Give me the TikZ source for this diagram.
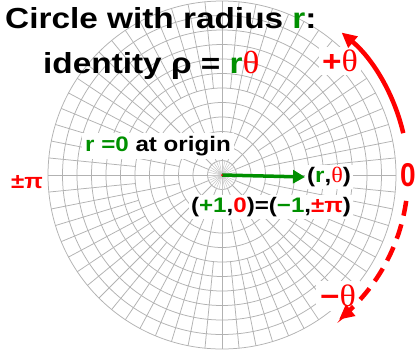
\documentclass[tikz,border=0pt]{standalone}
\usepackage{fontspec}
\setmainfont{Liberation Sans}[FakeStretch=1.15]
\newfontfamily\plainsans{Liberation Sans}
\newfontfamily\serf{Liberation Serif}[FakeStretch=1.1]
\usetikzlibrary{arrows.meta}
\definecolor{g}{HTML}{009000}
\definecolor{rd}{HTML}{FF0000}
\tikzset{
  gridl/.style={draw=black!30, line width=0.75pt},
  lbl/.style={inner sep=1pt, font=\bfseries\fontsize{21}{22}\selectfont},
  big/.style={inner sep=0pt, font=\bfseries\fontsize{29}{30}\selectfont},
  redline/.style={draw=rd, line width=4.5pt},
  redtip/.style={-{Triangle[length=15pt,width=14pt]}},
}
\newcommand{\thet}[1]{{\serf\mdseries\fontsize{#1}{#1}\selectfont θ}}
\begin{document}
\begin{tikzpicture}[x=1pt,y=1pt]
\useasboundingbox (-222,-174) rectangle (197,175);
\fill[white] (-222,-174) rectangle (197,175);
\coordinate (O) at (0,0);
% polar grid
\foreach \k in {1,...,12} \draw[gridl] (O) circle ({14.5*\k});
\foreach \i in {0,...,31} \draw[draw=black!22, line width=0.5pt] (O) -- ({\i*11.25}:14.5);
\foreach \i in {0,...,15} \draw[gridl] ({\i*22.5}:14.5) -- ({\i*22.5}:43.5);
\foreach \i in {0,...,31} \draw[gridl] ({\i*11.25}:43.5) -- ({\i*11.25}:87);
\foreach \i in {0,...,63} \draw[gridl] ({\i*5.625}:87) -- ({\i*5.625}:174);
% titles
\node[big, anchor=base west] (t1) at (-217,147) {Circle with radius \textcolor{g}{r}:};
\node[big, anchor=base west] (t2) at (-179,102) {identity ρ = \textcolor{g}{r}\textcolor{rd}{\thet{32}}};
% labels
\node[big, fill=white, inner sep=3pt, text=rd] (pt) at (118,114) {+\thet{31}};
\node[big, fill=white, inner sep=4pt, text=rd] (mt) at (116,-121) {−\thet{31}};
\node[lbl, text=rd] (pm) at (-195,-7) {±π};
\node[lbl, fill=white, inner sep=3pt] (or) at (-64,29) {\textcolor{g}{r =0} at origin};
\node[lbl, fill=white, inner sep=2pt, anchor=west] (rt) at (83,-2) {(\textcolor{g}{r},\textcolor{rd}{\thet{22}})};
\node[lbl, fill=white, inner sep=2pt] (eq) at (49,-32) {(\textcolor{g}{+1},\textcolor{rd}{0})=(\textcolor{g}{−1},\textcolor{rd}{±π})};
\node[inner sep=0pt, text=rd, font=\plainsans\bfseries\fontsize{33}{33}\selectfont] (zero) at (186,0) {\scalebox{0.85}[1]{0}};
% arrows
\draw[draw=g, line width=3.5pt, -{Triangle[length=12pt,width=13pt]}] (O) -- (rt.west);
\fill[rd] (O) circle (1);
\draw[redline, redtip] (13:186) arc[start angle=13, end angle=50, radius=186];
\draw[redline, dash pattern=on 15pt off 9pt] (-8:186) arc[start angle=-8, end angle=-42, radius=186];
\draw[redline, redtip] (-45:186) arc[start angle=-45, end angle=-51, radius=186];
\end{tikzpicture}
\end{document}
